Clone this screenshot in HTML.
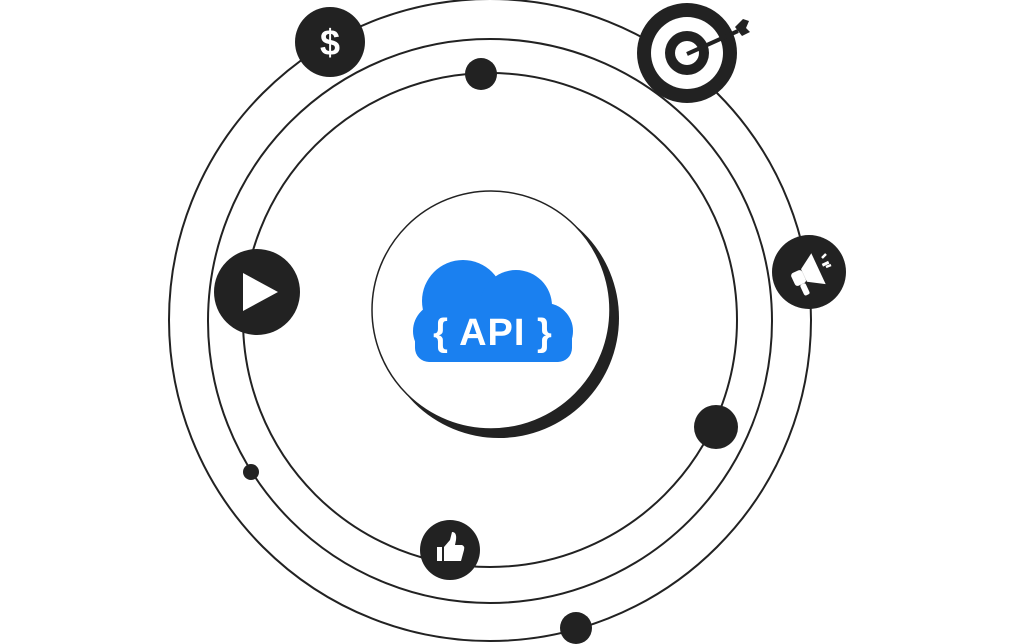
<!DOCTYPE html>
<html><head><meta charset="utf-8"><style>
html,body{margin:0;padding:0;background:#fff;width:1012px;height:644px;overflow:hidden}
</style></head><body>
<svg width="1012" height="644" viewBox="0 0 1012 644" xmlns="http://www.w3.org/2000/svg">
<g fill="none" stroke="#222" stroke-width="2">
<circle cx="490" cy="320" r="321"/>
<circle cx="490" cy="321" r="282"/>
<circle cx="490" cy="320" r="247"/>
</g>
<circle cx="499" cy="318" r="120" fill="#222"/>
<circle cx="491" cy="310" r="119" fill="#fff" stroke="#222" stroke-width="1.5"/>
<!-- cloud -->
<g fill="#1a80f0">
<circle cx="463" cy="301" r="41"/>
<circle cx="516" cy="306" r="36"/>
<circle cx="441" cy="331" r="28"/>
<circle cx="545" cy="331" r="28"/>
<rect x="415" y="326" width="157" height="36" rx="14"/>
</g>
<text x="493" y="345" text-anchor="middle" font-family="Liberation Sans, sans-serif" font-weight="bold" font-size="38" fill="#fff" letter-spacing="1">{ API }</text>
<!-- dollar -->
<circle cx="330" cy="42" r="35" fill="#222"/>
<text x="330" y="55" text-anchor="middle" font-family="Liberation Sans, sans-serif" font-weight="bold" font-size="36" fill="#fff">$</text>
<!-- dots -->
<circle cx="481" cy="74" r="16" fill="#222"/>
<circle cx="716" cy="427" r="22" fill="#222"/>
<circle cx="251" cy="472" r="8" fill="#222"/>
<circle cx="576" cy="628" r="16" fill="#222"/>
<!-- play -->
<circle cx="257" cy="292" r="43" fill="#222"/>
<polygon points="243,273 278,292 243,311" fill="#fff"/>
<!-- target -->
<circle cx="687" cy="53" r="50" fill="#222"/>
<circle cx="687" cy="53" r="36" fill="#fff"/>
<circle cx="687" cy="53" r="22" fill="#222"/>
<circle cx="687" cy="53" r="12" fill="#fff"/>
<line x1="687" y1="54" x2="738" y2="31" stroke="#222" stroke-width="4"/>
<polygon points="735,27 743,19 749,21 746,28 750,32 742,36" fill="#222"/>
<!-- megaphone -->
<circle cx="809" cy="272" r="37" fill="#222"/>
<g fill="#fff" transform="rotate(-25 809 272)">
<rect x="791" y="266" width="12" height="14" rx="3"/>
<polygon points="803,266 819,256 819,290 803,280"/>
<rect x="795" y="280" width="6" height="12" rx="2"/>
<rect x="824" y="270" width="7" height="3"/>
</g>
<g stroke="#fff" stroke-width="2.5"><line x1="822" y1="258" x2="826" y2="254"/><line x1="826" y1="267" x2="831" y2="265"/></g>
<!-- thumb -->
<circle cx="450" cy="550" r="30" fill="#222"/>
<g fill="#fff">
<rect x="437" y="547" width="5" height="14"/>
<path d="M444 547 L450 540 L452 532 Q457 532 456 540 L455 545 L462 545 Q465 546 464 550 L461 561 L444 561 Z"/>
</g>
</svg>
</body></html>
